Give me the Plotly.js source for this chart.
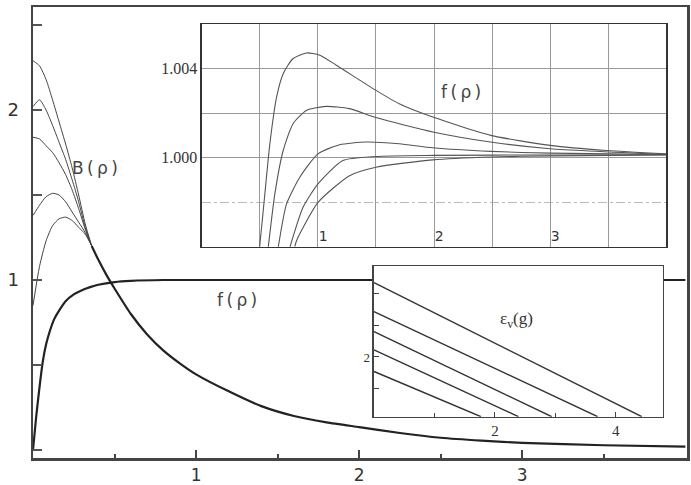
<!DOCTYPE html>
<html>
<head>
<meta charset="utf-8">
<script src="https://cdn.plot.ly/plotly-3.0.1.min.js"></script>
<style>html,body{margin:0;padding:0;background:#fff;}#chart{width:691px;height:485px;}</style>
</head>
<body>
<div id="chart"></div>
<script>
// ---- main panel: f(rho) ----
var rhoF = [0, 0.01, 0.02, 0.04, 0.06, 0.08, 0.1, 0.13, 0.16, 0.2, 0.25, 0.3, 0.35, 0.4, 0.5, 0.6, 0.8, 1.0, 1.5, 2.0, 3.0, 4.0];
var fMain = [0.0, 0.1, 0.2, 0.37, 0.52, 0.62, 0.69, 0.77, 0.82, 0.875, 0.915, 0.94, 0.958, 0.972, 0.988, 0.995, 1.0, 1.0, 1.0, 1.0, 1.0, 1.0];

// ---- main panel: B(rho) family (individual heads + common tail) ----
var rhoHead = [0, 0.04, 0.08, 0.12, 0.16, 0.2, 0.24, 0.28, 0.32];
var B1head = [2.29, 2.26, 2.18, 2.06, 1.93, 1.80, 1.66, 1.50, 1.33];
var B2head = [2.02, 2.06, 2.00, 1.91, 1.81, 1.71, 1.59, 1.46, 1.31];
var B3head = [1.84, 1.83, 1.79, 1.75, 1.69, 1.62, 1.53, 1.42, 1.30];
var B4head = [1.38, 1.44, 1.49, 1.51, 1.50, 1.46, 1.40, 1.34, 1.28];
var B5head = [0.85, 1.08, 1.23, 1.32, 1.36, 1.37, 1.35, 1.31, 1.27];
var rhoTail = [0.36, 0.4, 0.45, 0.5, 0.6, 0.7, 0.8, 0.9, 1.0, 1.2, 1.4, 1.6, 1.8, 2.0, 2.25, 2.5, 2.75, 3.0, 3.5, 4.0];
var Btail = [1.20, 1.12, 1.03, 0.95, 0.80, 0.68, 0.585, 0.51, 0.445, 0.345, 0.258, 0.2, 0.163, 0.135, 0.1, 0.072, 0.055, 0.042, 0.028, 0.02];

// ---- inset 1: f(rho) close to 1 ----
var rhoA = [0.497, 0.528, 0.585, 0.643, 0.70, 0.785, 0.90, 1.015, 1.158, 1.5, 1.70, 1.99, 2.49, 3.0, 3.49, 4.0];
var fA   = [0.996, 0.99762, 1.00062, 1.00272, 1.00377, 1.00445, 1.0047, 1.0046, 1.00415, 1.00302, 1.00242, 1.00182, 1.0010, 1.00055, 1.00032, 1.00017];
var rhoB = [0.571, 0.628, 0.70, 0.785, 0.90, 1.07, 1.27, 1.5, 2.0, 2.5, 3.0, 4.0];
var fB   = [0.99596, 0.99837, 1.00032, 1.00152, 1.00212, 1.0023, 1.0022, 1.0018, 1.00114, 1.00069, 1.0004, 1.00014];
var rhoC = [0.657, 0.729, 0.843, 1.0, 1.186, 1.415, 1.70, 1.99, 2.49, 3.0, 4.0];
var fC   = [0.99596, 0.99792, 0.99912, 1.00017, 1.00058, 1.0007, 1.00062, 1.00044, 1.00028, 1.0002, 1.00014];
var rhoD = [0.757, 0.871, 1.0, 1.215, 1.5, 2.0, 3.0, 4.0];
var fD   = [0.99596, 0.99777, 0.99882, 0.99987, 1.00005, 1.0001, 1.00012, 1.00013];
var rhoE = [0.80, 0.815, 1.0, 1.272, 1.5, 1.99, 2.49, 3.0, 4.0];
var fE   = [0.996, 0.99627, 0.99799, 0.99919, 0.99957, 0.9999, 1.00003, 1.00008, 1.00012];

// ---- inset 2: eps_v(g) straight lines ----
var g1 = [0, 4.43], e1 = [3.176, 1.055];
var g2 = [0, 3.70], e2 = [2.717, 1.055];
var g3 = [0, 2.94], e3 = [2.40, 1.055];
var g4 = [0, 2.39], e4 = [2.111, 1.055];
var g5 = [0, 1.77], e5 = [1.77, 1.055];

// ---- tick labels ----
var mainXTicks = [1, 2, 3], mainXText = ['1', '2', '3'];
var mainYTicks = [0, 0.5, 1, 1.5, 2, 2.5], mainYText = ['', '', '1', '', '2', ''];
var in1XTicks = [0.5, 1, 1.5, 2, 2.5, 3, 3.5], in1XText = ['', '1', '', '2', '', '3', ''];
var in1YTicks = [1.000, 1.002, 1.004], in1YText = ['1.000', '', '1.004'];
var in2XTicks = [2, 4], in2XText = ['2', '4'];
var in2YTicks = [1.5, 2, 2.5, 3], in2YText = ['', '2', '', ''];

function ln(x, y, xa, ya, color, width) {
  return {x: x, y: y, xaxis: xa, yaxis: ya, type: 'scatter', mode: 'lines',
          line: {color: color, width: width, shape: 'spline', smoothing: 0.6}, hoverinfo: 'skip'};
}
var traces = [];
[B1head, B2head, B3head, B4head, B5head].forEach(function (h) {
  traces.push(ln(rhoHead.concat([rhoTail[0]]), h.concat([Btail[0]]), 'x', 'y', '#444', 1));
});
traces.push(ln(rhoTail, Btail, 'x', 'y', '#222', 2.2));
traces.push(ln(rhoF, fMain, 'x', 'y', '#222', 2.2));

[[rhoA, fA], [rhoB, fB], [rhoC, fC], [rhoD, fD], [rhoE, fE]].forEach(function (p) {
  traces.push(ln(p[0], p[1], 'x2', 'y2', '#555', 1.1));
});
[[g1, e1], [g2, e2], [g3, e3], [g4, e4], [g5, e5]].forEach(function (p) {
  var t = ln(p[0], p[1], 'x3', 'y3', '#333', 1.4);
  t.line.shape = 'linear';
  traces.push(t);
});

var sans = 'DejaVu Sans, sans-serif';
var serif = 'Liberation Serif, serif';

var layout = {
  width: 691, height: 485,
  margin: {l: 33, r: 4, t: 7, b: 27, pad: 0},
  paper_bgcolor: '#fff', plot_bgcolor: '#fff',
  showlegend: false,
  xaxis: {
    domain: [0, 1], range: [0, 4.01],
    showline: true, mirror: true, linecolor: '#444', linewidth: 2.5,
    showgrid: false, zeroline: false,
    ticks: 'inside', ticklen: 8, tickwidth: 2, tickcolor: '#444',
    tickmode: 'array', tickvals: mainXTicks, ticktext: mainXText,
    ticklabelstandoff: 0,
    minor: {tickvals: [0.5, 1.5, 2.5, 3.5], ticks: 'inside', ticklen: 4, tickwidth: 2, tickcolor: '#444', showgrid: false},
    tickfont: {family: sans, size: 17, color: '#333'}
  },
  yaxis: {
    domain: [0, 1], range: [-0.047, 2.606],
    showline: true, mirror: true, linecolor: '#444', linewidth: 2.5,
    showgrid: false, zeroline: false,
    ticks: 'inside', ticklen: 9, tickwidth: 2, tickcolor: '#555',
    tickmode: 'array', tickvals: mainYTicks, ticktext: mainYText,
    ticklabelstandoff: 8,
    tickfont: {family: sans, size: 18, color: '#333'}
  },
  xaxis2: {
    domain: [0.2584, 0.9679], anchor: 'y2', range: [0, 4],
    showline: true, mirror: true, linecolor: '#333', linewidth: 1.5,
    showgrid: true, gridcolor: '#999', gridwidth: 1, zeroline: false,
    ticks: '', tickmode: 'array', tickvals: in1XTicks, ticktext: in1XText,
    ticklabelposition: 'inside right',
    tickfont: {family: sans, size: 14, color: '#333'}
  },
  yaxis2: {
    domain: [0.4685, 0.9623], anchor: 'x2', range: [0.996, 1.006],
    showline: true, mirror: true, linecolor: '#333', linewidth: 1.5,
    showgrid: true, gridcolor: '#999', gridwidth: 1, zeroline: false,
    ticks: '', tickmode: 'array', tickvals: in1YTicks, ticktext: in1YText,
    minor: {tickvals: [0.998], showgrid: true, gridcolor: '#bbb', gridwidth: 1, griddash: 'dashdot', ticks: ''},
    tickfont: {family: serif, size: 16, color: '#333'}
  },
  xaxis3: {
    domain: [0.5214, 0.9633], anchor: 'y3', range: [0, 4.78],
    showline: true, mirror: true, linecolor: '#444', linewidth: 1.5,
    showgrid: false, zeroline: false,
    ticks: 'inside', ticklen: 5, tickwidth: 1, tickcolor: '#444',
    tickmode: 'array', tickvals: in2XTicks, ticktext: in2XText,
    minor: {tickvals: [1, 3], ticks: 'inside', ticklen: 4, tickwidth: 1, tickcolor: '#444', showgrid: false},
    tickfont: {family: serif, size: 15, color: '#333'}
  },
  yaxis3: {
    domain: [0.0916, 0.4257], anchor: 'x3', range: [1.055, 3.44],
    showline: true, mirror: true, linecolor: '#444', linewidth: 1.5,
    showgrid: false, zeroline: false,
    ticks: 'inside', ticklen: 5, tickwidth: 1, tickcolor: '#444',
    tickmode: 'array', tickvals: in2YTicks, ticktext: in2YText,
    tickfont: {family: serif, size: 13, color: '#333'}
  },
  annotations: [
    {xref: 'x', yref: 'y', x: 0.38, y: 1.66, text: 'B\u2009(\u2009\u03c1\u2009)', showarrow: false,
     font: {family: sans, size: 17, color: '#444'}},
    {xref: 'x', yref: 'y', x: 1.25, y: 0.885, text: 'f\u2009(\u2009\u03c1\u2009)', showarrow: false,
     font: {family: sans, size: 17, color: '#444'}},
    {xref: 'x2', yref: 'y2', x: 2.23, y: 1.00293, text: 'f\u2009(\u2009\u03c1\u2009)', showarrow: false,
     font: {family: sans, size: 17, color: '#444'}},
    {xref: 'x3', yref: 'y3', x: 2.35, y: 2.585, text: '\u03b5<sub>v</sub>(g)', showarrow: false,
     font: {family: serif, size: 17, color: '#333'}}
  ]
};

Plotly.newPlot('chart', traces, layout, {staticPlot: true, displayModeBar: false});
</script>
</body>
</html>
